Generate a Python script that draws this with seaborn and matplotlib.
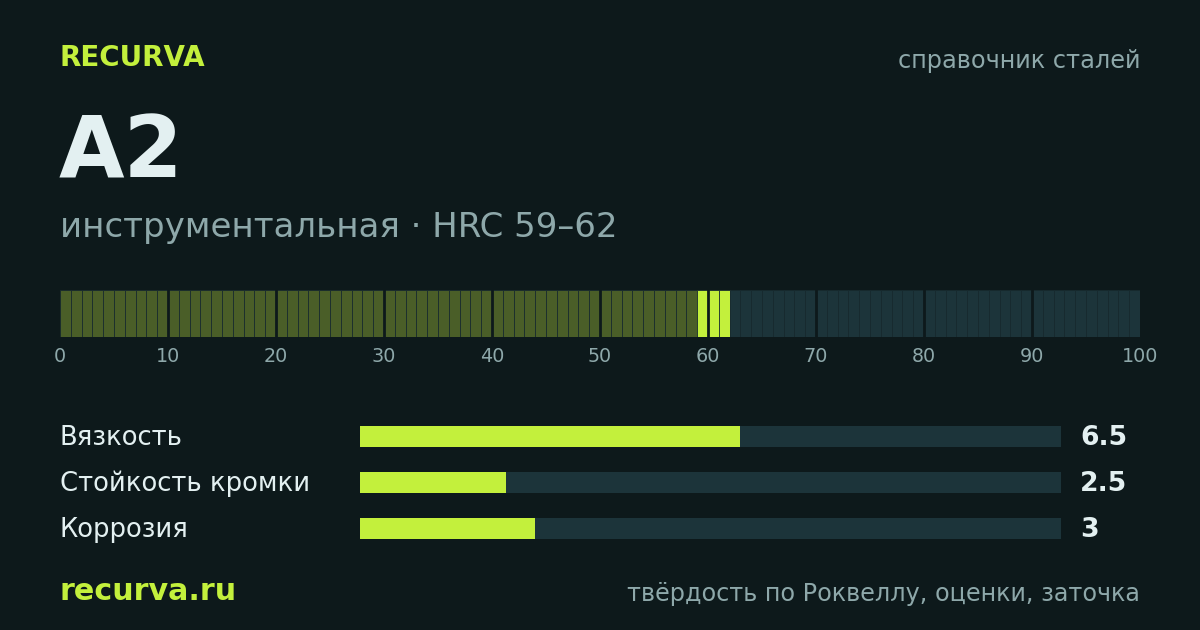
import matplotlib
matplotlib.use("Agg")
import matplotlib.pyplot as plt
import seaborn as sns
import pandas as pd

# palette
BG = "#0d191b"
TRACK = "#1c343a"
OLIVE = "#4a5e28"
LIME = "#c3f03c"
LIGHT = "#e3f0f1"
MUTED = "#8ea8aa"
GAP = "#172a2f"

# data
brand = "RECURVA"
section = "справочник сталей"
steel = "A2"
subtitle = "инструментальная · HRC 59–62"
hrc_min, hrc_max = 59, 62
scale_ticks = [0, 10, 20, 30, 40, 50, 60, 70, 80, 90, 100]

metrics = ["Вязкость", "Стойкость кромки", "Коррозия"]
scores = [6.5, 2.5, 3]
score_labels = ["6.5", "2.5", "3"]
score_max = 12

footer_left = "recurva.ru"
footer_right = "твёрдость по Роквеллу, оценки, заточка"

W, H = 1200, 630


def fx(px):
    return px / W


def fy(py):
    return 1 - py / H


sns.set_theme(style="dark")
plt.rcParams["font.family"] = ["DejaVu Sans"]

fig = plt.figure(figsize=(12, 6.3), dpi=100, facecolor=BG)

# header texts
fig.text(fx(60), fy(66), brand, color=LIME, fontsize=20, fontweight="bold", va="baseline")
fig.text(fx(1140), fy(68), section, color=MUTED, fontsize=17.3, ha="right", va="baseline")
fig.text(fx(59), fy(178), steel, color=LIGHT, fontsize=61, fontweight="bold", va="baseline")
fig.text(fx(60), fy(237), subtitle, color=MUTED, fontsize=24.5, va="baseline")

# hardness strip
cells = pd.DataFrame({"pos": [i + 0.5 for i in range(100)]})
cells["zone"] = ["in" if hrc_min <= i < hrc_max else ("below" if i < hrc_min else "above") for i in range(100)]
cells["h"] = 1

ax1 = fig.add_axes([fx(60), fy(337), fx(1140) - fx(60), (337 - 290) / H])
ax1.set_facecolor(BG)
sns.barplot(data=cells, x="pos", y="h", hue="zone", native_scale=True, dodge=False,
            palette={"below": OLIVE, "in": LIME, "above": TRACK}, width=1, saturation=1,
            edgecolor=GAP, linewidth=0.55, legend=False, ax=ax1)
for t in scale_ticks[1:-1]:
    ax1.axvline(t, color=BG, linewidth=2.0)
ax1.set_xlim(0, 100)
ax1.set_ylim(0, 1)
ax1.set_xticks(scale_ticks)
ax1.set_xticklabels([str(t) for t in scale_ticks])
ax1.set_yticks([])
ax1.set_xlabel("")
ax1.set_ylabel("")
ax1.tick_params(axis="x", length=0, pad=7, labelsize=13.8, labelcolor=MUTED)
for s in ax1.spines.values():
    s.set_visible(False)
ax1.grid(False)

# ratings
ratings = pd.DataFrame({"metric": metrics, "score": scores, "full": [score_max] * len(metrics)})
ax2 = fig.add_axes([fx(360), fy(551.5), fx(1061) - fx(360), 138 / H])
ax2.set_facecolor(BG)
sns.barplot(data=ratings, y="metric", x="full", color=TRACK, orient="h", width=0.457,
            saturation=1, linewidth=0, ax=ax2)
sns.barplot(data=ratings, y="metric", x="score", color=LIME, orient="h", width=0.457,
            saturation=1, linewidth=0, ax=ax2)
ax2.set_xlim(0, score_max)
ax2.set_ylim(2.5, -0.5)
ax2.set_xticks([])
ax2.set_yticks([])
ax2.set_xlabel("")
ax2.set_ylabel("")
for s in ax2.spines.values():
    s.set_visible(False)
ax2.grid(False)

for i, (m, lab) in enumerate(zip(metrics, score_labels)):
    base = 445 + 46 * i
    fig.text(fx(60), fy(base), m, color=LIGHT, fontsize=18.6, va="baseline")
    fig.text(fx(1080), fy(base), lab, color=LIGHT, fontsize=19.2,
             fontweight="bold", va="baseline")

# footer
fig.text(fx(60), fy(600), footer_left, color=LIME, fontsize=21.7, fontweight="bold", va="baseline")
fig.text(fx(1140), fy(601), footer_right, color=MUTED, fontsize=17.2, ha="right", va="baseline")

fig.savefig("out.png", dpi=100, facecolor=BG)
